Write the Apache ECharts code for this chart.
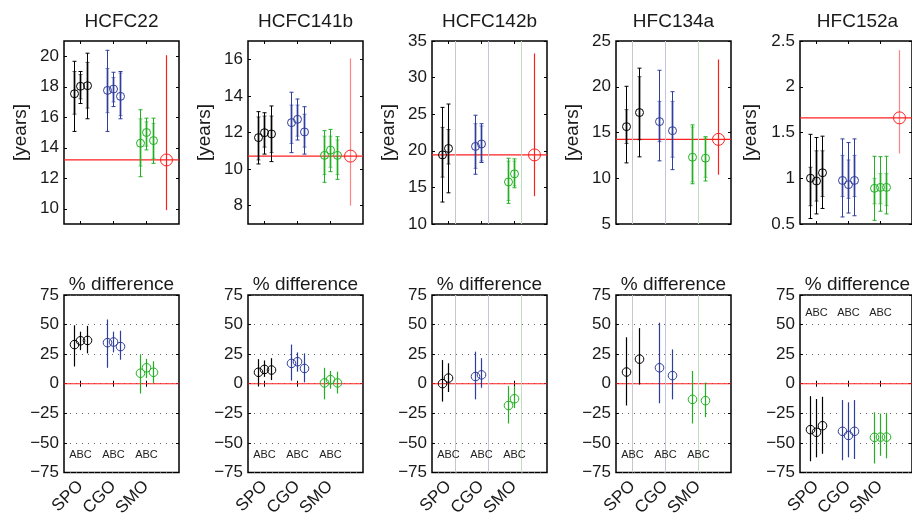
<!DOCTYPE html>
<html><head><meta charset="utf-8">
<script src="https://cdn.jsdelivr.net/npm/echarts@6/dist/echarts.min.js"></script>
<style>html,body{margin:0;padding:0;background:#fff}#c{width:912px;height:519px}</style>
</head><body><div id="c"></div>
<script>
// ---------------- DATA ----------------
const species = ['HCFC22', 'HCFC141b', 'HCFC142b', 'HFC134a', 'HFC152a'];
const sites = ['SPO', 'CGO', 'SMO'];
const models = ['A', 'B', 'C'];

// lifetimes: [site, model, value, outerLo, outerHi, innerLo, innerHi]
const lifeHCFC22 = [
  ['SPO','A',17.54,15.07,19.67,16.2,19.0],
  ['SPO','B',18.03,16.9,19.0,17.2,18.8],
  ['SPO','C',18.07,15.9,20.2,16.6,19.6],
  ['CGO','A',17.76,15.07,20.39,16.3,19.2],
  ['CGO','B',17.85,16.7,18.95,17.0,18.6],
  ['CGO','C',17.37,15.9,19.0,16.1,18.9],
  ['SMO','A',14.30,12.1,16.49,12.8,15.9],
  ['SMO','B',15.0,13.86,15.94,14.1,15.7],
  ['SMO','C',14.47,12.98,15.94,13.3,15.6]
];
const lifeHCFC141b = [
  ['SPO','A',11.72,10.28,13.14,10.5,12.85],
  ['SPO','B',11.99,10.82,13.08,11.2,12.9],
  ['SPO','C',11.92,10.41,13.45,10.9,12.9],
  ['CGO','A',12.54,10.9,14.2,11.4,13.5],
  ['CGO','B',12.72,11.59,13.83,11.8,13.5],
  ['CGO','C',12.03,10.82,13.41,11.2,13.0],
  ['SMO','A',10.75,9.28,12.1,9.7,11.8],
  ['SMO','B',11.04,9.86,12.17,10.1,11.8],
  ['SMO','C',10.75,9.44,11.77,9.7,11.6]
];
const lifeHCFC142b = [
  ['SPO','A',19.44,13.0,25.93,16.4,23.2],
  ['SPO','B',20.32,14.26,26.39,18.2,22.9],
  ['CGO','A',20.6,16.8,24.86,17.6,23.7],
  ['CGO','B',20.93,18.4,23.7,18.6,23.4],
  ['SMO','A',15.74,12.82,18.98,13.2,18.6],
  ['SMO','B',16.85,14.95,18.9,15.2,18.6]
];
const lifeHFC134a = [
  ['SPO','A',15.64,11.68,20.05,13.8,17.5],
  ['SPO','C',17.18,12.34,22.03,14.2,21.1],
  ['CGO','A',16.19,11.9,21.8,14.0,18.4],
  ['CGO','C',15.2,10.94,19.46,12.3,18.4],
  ['SMO','A',12.3,9.4,15.83,9.6,15.6],
  ['SMO','C',12.19,9.7,14.54,10.1,14.4]
];
const lifeHFC152a = [
  ['SPO','A',1.0,0.56,1.48,0.7,1.12],
  ['SPO','B',0.97,0.61,1.445,0.75,1.3],
  ['SPO','C',1.06,0.67,1.46,0.8,1.3],
  ['CGO','A',0.976,0.577,1.43,0.8,1.25],
  ['CGO','B',0.93,0.62,1.39,0.78,1.2],
  ['CGO','C',0.976,0.59,1.43,0.8,1.25],
  ['SMO','A',0.89,0.54,1.24,0.72,1.0],
  ['SMO','B',0.9,0.64,1.236,0.72,1.05],
  ['SMO','C',0.9,0.61,1.24,0.7,1.05]
];

// reference lifetime: [value, lo, hi]
const refHCFC22 = [13.2, 9.91, 20.07];
const refHCFC141b = [10.71, 8.0, 16.05];
const refHCFC142b = [19.44, 13.8, 33.3];
const refHFC134a = [14.25, 10.39, 22.98];
const refHFC152a = [1.66, 1.27, 2.40];

// % difference: [site, model, value, lo, hi]
const diffHCFC22 = [
  ['SPO','A',33.1,14.6,49.4], ['SPO','B',36.3,28.4,44.0], ['SPO','C',36.6,25.7,48.9],
  ['CGO','A',34.7,13.5,54.3], ['CGO','B',35.3,26.5,44.0], ['CGO','C',31.4,20.3,44.8],
  ['SMO','A',8.9,-8.3,24.9], ['SMO','B',13.5,4.8,21.1], ['SMO','C',9.7,0.4,19.0]
];
const diffHCFC141b = [
  ['SPO','A',9.7,-2.3,20.8], ['SPO','B',12.1,5.8,19.7], ['SPO','C',11.6,3.1,21.6],
  ['CGO','A',17.2,2.6,33.1], ['CGO','B',18.6,10.2,26.5], ['CGO','C',12.9,1.2,25.7],
  ['SMO','A',0.7,-13.2,13.5], ['SMO','B',3.4,-4.2,10.8], ['SMO','C',0.7,-8.3,10.2]
];
const diffHCFC142b = [
  ['SPO','A',0.1,-15.1,20.0], ['SPO','B',4.8,-7.0,17.3],
  ['CGO','A',6.1,-13.2,27.1], ['CGO','B',7.5,-3.4,21.6],
  ['SMO','A',-18.4,-33.6,-2.0], ['SMO','B',-12.7,-20.6,-2.0]
];
const diffHFC134a = [
  ['SPO','A',9.9,-18.4,39.3], ['SPO','C',20.8,-0.7,47.0],
  ['CGO','A',13.5,-16.5,51.6], ['CGO','C',6.9,-13.2,29.0],
  ['SMO','A',-13.2,-33.6,10.8], ['SMO','C',-14.3,-28.2,1.0]
];
const diffHFC152a = [
  ['SPO','A',-38.8,-65.5,-10.5], ['SPO','B',-41.0,-62.2,-12.9], ['SPO','C',-35.5,-59.2,-11.0],
  ['CGO','A',-40.2,-64.7,-13.8], ['CGO','B',-43.7,-62.2,-15.7], ['CGO','C',-40.2,-63.6,-13.8],
  ['SMO','A',-45.3,-67.4,-24.1], ['SMO','B',-45.1,-60.9,-25.2], ['SMO','C',-45.1,-63.0,-24.6]
];

// axis ranges and tick labels
const yRangeTop = [[9, 21], [7, 17], [10, 35], [5, 25], [0.5, 2.5]];
const yTicksHCFC22 = [10, 12, 14, 16, 18, 20];
const yTicksHCFC141b = [8, 10, 12, 14, 16];
const yTicksHCFC142b = [10, 15, 20, 25, 30, 35];
const yTicksHFC134a = [5, 10, 15, 20, 25];
const yTicksHFC152a = [0.5, 1, 1.5, 2, 2.5];
const diffRange = [-75, 75];
const diffStep = 25;
const xRange = [0.5, 4];
const xTicks = [1, 2, 3];
const abcText = 'ABC';

// ---------------- LAYOUT / STYLE ----------------
const lifeData = [lifeHCFC22, lifeHCFC141b, lifeHCFC142b, lifeHFC134a, lifeHFC152a];
const refData = [refHCFC22, refHCFC141b, refHCFC142b, refHFC134a, refHFC152a];
const diffData = [diffHCFC22, diffHCFC141b, diffHCFC142b, diffHFC134a, diffHFC152a];
const yTicksTop = [yTicksHCFC22, yTicksHCFC141b, yTicksHCFC142b, yTicksHFC134a, yTicksHFC152a];

const panelLeft = [64, 248, 432, 616, 800];
const panelWidth = 115;
const rowTop = [41, 295];
const rowHeight = 183;
const modelOffset = { A: -0.2, B: 0, C: 0.2 };
const refX = 3.6;
const abcY = [-60, -60, -60, -60, 60];
const nameGaps = [34, 34, 34, 34, 40];
const siteColor = ['#000000', '#2f3d9c', '#22b022'];
const missingColor = ['#c6c6cc', '#c4c4e2', '#c2dfc2'];
const refColor = '#ff1f1f';
const refAlpha = [1, 0.55, 1, 1, 0.55];
const FONT = "'Liberation Sans', Arial, Helvetica, sans-serif";
const TXT = '#1a1a1a';

const fmt = v => String(v).replace('-', '\u2212');

function lifeRows(rows, ref, p) {
  const out = rows.map(r => [sites.indexOf(r[0]) + 1 + modelOffset[r[1]], r[2], r[3], r[4], r[5], r[6], sites.indexOf(r[0]), 0]);
  sites.forEach((s, si) => models.forEach(m => {
    if (!rows.some(r => r[0] === s && r[1] === m)) out.unshift([si + 1 + modelOffset[m], 0, 0, 0, 0, 0, si, 1]);
  }));
  out.push([refX, ref[0], ref[1], ref[2], 0, 0, p, 2]);
  return out;
}
function diffRows(rows, p) {
  const out = rows.map(r => [sites.indexOf(r[0]) + 1 + modelOffset[r[1]], r[2], r[3], r[4], 0, 0, sites.indexOf(r[0]), 3]);
  sites.forEach((s, si) => models.forEach(m => {
    if (!rows.some(r => r[0] === s && r[1] === m)) out.unshift([si + 1 + modelOffset[m], 0, 0, 0, 0, 0, si, 1]);
  }));
  sites.forEach((s, si) => out.push([si + 1, abcY[p], 0, 0, 0, 0, si, 4]));
  return out;
}

function renderItem(params, api) {
  const kind = api.value(7);
  const cs = params.coordSys;
  const x = Math.round(api.coord([api.value(0), 0])[0]) + 0.5;
  const ci = api.value(6);
  if (kind === 1) {
    return { type: 'line', shape: { x1: x, y1: cs.y, x2: x, y2: cs.y + cs.height }, style: { stroke: missingColor[ci], lineWidth: 1 } };
  }
  const yc = api.coord([0, api.value(1)])[1];
  if (kind === 4) {
    return { type: 'text', x: x, y: yc, style: { text: abcText, fontSize: 11, fontFamily: "'Liberation Sans Narrow', " + FONT, fill: '#222', align: 'center', verticalAlign: 'middle' } };
  }
  const ylo = api.coord([0, api.value(2)])[1];
  const yhi = api.coord([0, api.value(3)])[1];
  const children = [];
  if (kind === 0) {
    const col = siteColor[ci];
    const yil = api.coord([0, api.value(4)])[1];
    const yih = api.coord([0, api.value(5)])[1];
    children.push({ type: 'line', shape: { x1: x, y1: ylo, x2: x, y2: yhi }, style: { stroke: col, lineWidth: 1 } });
    children.push({ type: 'line', shape: { x1: x - 2, y1: ylo, x2: x + 2, y2: ylo }, style: { stroke: col, lineWidth: 1 } });
    children.push({ type: 'line', shape: { x1: x - 2, y1: yhi, x2: x + 2, y2: yhi }, style: { stroke: col, lineWidth: 1 } });
    children.push({ type: 'line', shape: { x1: x, y1: yil, x2: x, y2: yih }, style: { stroke: col, lineWidth: 2, opacity: 0.7 } });
    children.push({ type: 'line', shape: { x1: x - 2, y1: yil, x2: x + 2, y2: yil }, style: { stroke: col, lineWidth: 1, opacity: 0.6 } });
    children.push({ type: 'line', shape: { x1: x - 2, y1: yih, x2: x + 2, y2: yih }, style: { stroke: col, lineWidth: 1, opacity: 0.6 } });
    children.push({ type: 'circle', shape: { cx: x, cy: yc, r: 4 }, style: { fill: 'none', stroke: col, lineWidth: 1 } });
  } else if (kind === 2) {
    children.push({ type: 'line', shape: { x1: x, y1: ylo, x2: x, y2: yhi }, style: { stroke: refColor, lineWidth: 1.2, opacity: refAlpha[ci] } });
    children.push({ type: 'circle', shape: { cx: x, cy: yc, r: 6 }, style: { fill: 'none', stroke: refColor, lineWidth: 1 } });
  } else if (kind === 3) {
    const col = siteColor[ci];
    children.push({ type: 'line', shape: { x1: x, y1: ylo, x2: x, y2: yhi }, style: { stroke: col, lineWidth: 1.2 } });
    children.push({ type: 'circle', shape: { cx: x, cy: yc, r: 4.3 }, style: { fill: 'none', stroke: col, lineWidth: 1 } });
  }
  return { type: 'group', children: children };
}

const grid = [], xAxis = [], yAxis = [], series = [], graphic = [];
for (let row = 0; row < 2; row++) {
  for (let p = 0; p < 5; p++) {
    const g = row * 5 + p;
    grid.push({ left: panelLeft[p], top: rowTop[row], width: panelWidth, height: rowHeight, show: true, borderColor: '#000', borderWidth: 1.5, backgroundColor: 'transparent' });
    const xTickCommon = { show: true, inside: true, length: 3, customValues: xTicks, lineStyle: { color: '#000' } };
    xAxis.push({
      type: 'value', gridIndex: g, min: xRange[0], max: xRange[1], position: 'bottom',
      axisLine: { show: false }, splitLine: { show: false }, axisTick: xTickCommon,
      axisLabel: row === 1 ? { show: true, customValues: xTicks, rotate: 45, margin: 11, fontSize: 17, color: TXT, fontFamily: FONT, formatter: v => sites[Math.round(v) - 1] || '' } : { show: false }
    });
    xAxis.push({
      type: 'value', gridIndex: g, min: xRange[0], max: xRange[1], position: 'top',
      axisLine: { show: false }, splitLine: { show: false }, axisTick: xTickCommon, axisLabel: { show: false }
    });
    if (row === 0) {
      const tk = yTicksTop[p];
      const yt = { show: true, inside: true, length: 3, customValues: tk, lineStyle: { color: '#000' } };
      yAxis.push({
        type: 'value', gridIndex: g, min: yRangeTop[p][0], max: yRangeTop[p][1], position: 'left',
        axisLine: { show: false }, splitLine: { show: false }, axisTick: yt,
        axisLabel: { show: true, customValues: tk, margin: 5, fontSize: 17, color: TXT, fontFamily: FONT, formatter: fmt },
        name: '[years]', nameLocation: 'middle', nameGap: nameGaps[p],
        nameTextStyle: { fontSize: 19, color: TXT, fontFamily: FONT }
      });
      yAxis.push({
        type: 'value', gridIndex: g, min: yRangeTop[p][0], max: yRangeTop[p][1], position: 'right',
        axisLine: { show: false }, splitLine: { show: false }, axisTick: yt, axisLabel: { show: false }
      });
    } else {
      yAxis.push({
        type: 'value', gridIndex: g, min: diffRange[0], max: diffRange[1], interval: diffStep, position: 'left',
        axisLine: { show: false }, axisTick: { show: true, inside: true, length: 3, lineStyle: { color: '#000' } },
        splitLine: { show: true, lineStyle: { color: '#666', type: [1, 5], width: 1 } },
        axisLabel: { show: true, margin: 5, fontSize: 17, color: TXT, fontFamily: FONT, formatter: fmt }
      });
      yAxis.push({
        type: 'value', gridIndex: g, min: diffRange[0], max: diffRange[1], interval: diffStep, position: 'right',
        axisLine: { show: false }, splitLine: { show: false },
        axisTick: { show: true, inside: true, length: 3, lineStyle: { color: '#000' } }, axisLabel: { show: false }
      });
    }
    const rows = row === 0 ? lifeRows(lifeData[p], refData[p], p) : diffRows(diffData[p], p);
    const refVal = row === 0 ? refData[p][0] : 0;
    series.push({
      type: 'line', xAxisIndex: g * 2, yAxisIndex: g * 2, data: [[xRange[0], refVal], [xRange[1], refVal]],
      showSymbol: false, symbol: 'none', lineStyle: { color: refColor, width: 1.2 }, silent: true, animation: false, z: 2
    });
    series.push({
      type: 'custom', xAxisIndex: g * 2, yAxisIndex: g * 2, data: rows, renderItem: renderItem,
      clip: false, silent: true, animation: false, z: 3
    });
    graphic.push({
      type: 'text', x: panelLeft[p] + panelWidth / 2, y: row === 0 ? 22 : 285,
      style: { text: row === 0 ? species[p] : '% difference', fontSize: 19, fontFamily: FONT, fill: TXT, align: 'center', verticalAlign: 'middle' }
    });
  }
}

const chart = echarts.init(document.getElementById('c'), null, { renderer: 'canvas' });
chart.setOption({ backgroundColor: '#fff', animation: false, textStyle: { fontFamily: FONT }, grid, xAxis, yAxis, series, graphic });
</script>
</body></html>
